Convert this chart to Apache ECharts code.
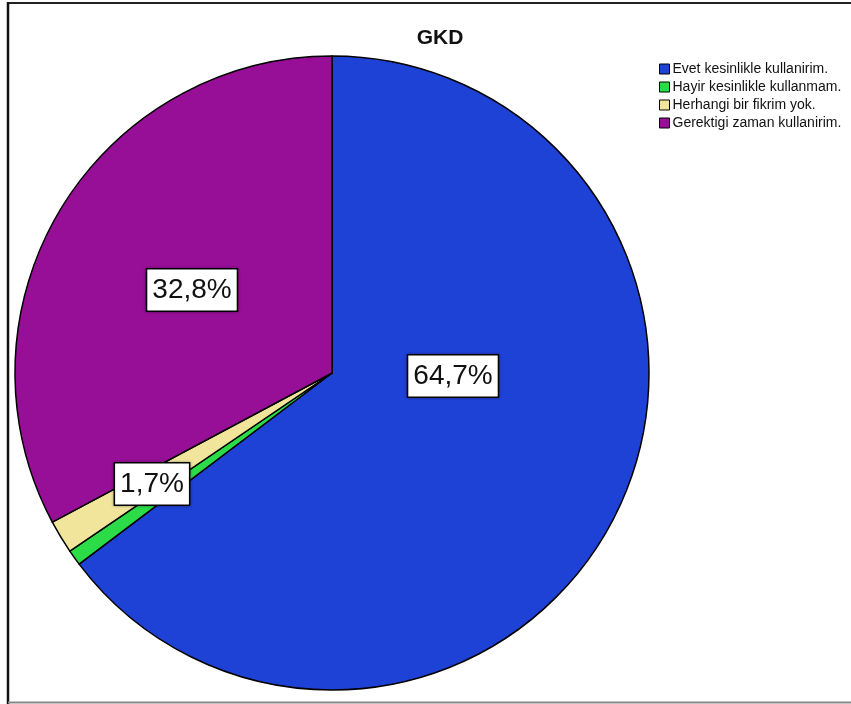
<!DOCTYPE html>
<html>
<head>
<meta charset="utf-8">
<script src="https://cdn.jsdelivr.net/npm/echarts@6/dist/echarts.min.js"></script>
<style>
html,body{margin:0;padding:0;background:#fff;}
#chart{width:851px;height:704px;}
</style>
</head>
<body>
<div id="chart"></div>
<script>
// Data
const categories = ['Evet kesinlikle kullanirim.', 'Hayir kesinlikle kullanmam.', 'Herhangi bir fikrim yok.', 'Gerektigi zaman kullanirim.'];
const values = [64.7, 0.8, 1.7, 32.8];
const labelTexts = ['64,7%', '', '1,7%', '32,8%'];
const showLabel = [true, false, true, true];

// Styling (kept separate from data)
const colors = ['#1f42d6', '#2bdc48', '#f1e59c', '#970f97'];
const CX = 332, CY = 373, R = 317;
const labelOffsets = [[121, 3], [0, 0], [-180, 111], [-140, -83]];

const chart = echarts.init(document.getElementById('chart'), null, {renderer: 'canvas'});

chart.setOption({
  animation: false,
  backgroundColor: '#ffffff',
  title: {
    text: 'GKD',
    left: 435, top: 23,
    textAlign: 'center',
    textStyle: {fontFamily: 'Liberation Sans, Arial', fontSize: 21, fontWeight: 'bold', color: '#111'}
  },
  legend: {
    orient: 'vertical',
    left: 654, top: 57,
    itemWidth: 10, itemHeight: 10, itemGap: 4,
    icon: 'rect',
    selectedMode: false,
    data: categories,
    itemStyle: {borderColor: '#000', borderWidth: 1},
    textStyle: {fontFamily: 'Liberation Sans, Arial', fontSize: 14, color: '#111', padding: [0, 0, 0, -2]}
  },
  graphic: [
    {type: 'line', shape: {x1: 8, y1: 3, x2: 851, y2: 3}, style: {stroke: '#222', lineWidth: 2}},
    {type: 'line', shape: {x1: 8, y1: 2, x2: 8, y2: 704}, style: {stroke: '#111', lineWidth: 2.5}},
    {type: 'line', shape: {x1: 8, y1: 702.5, x2: 851, y2: 702.5}, style: {stroke: '#888', lineWidth: 2}}
  ],
  series: [{
    type: 'pie',
    center: [CX, CY],
    radius: [0, R],
    startAngle: 90,
    clockwise: true,
    avoidLabelOverlap: false,
    itemStyle: {borderColor: '#000', borderWidth: 1.5},
    emphasis: {disabled: true},
    labelLine: {show: false},
    label: {
      show: true,
      position: 'inside',
      formatter: p => labelTexts[p.dataIndex],
      fontFamily: 'Liberation Sans, Arial',
      fontSize: 28,
      lineHeight: 34,
      color: '#111',
      backgroundColor: '#ffffff',
      borderColor: '#000',
      borderWidth: 1.5,
      padding: [4, 5, 3, 5],
      shadowColor: 'rgba(0,0,0,0.35)',
      shadowBlur: 3
    },
    labelLayout: function (p) {
      const o = labelOffsets[p.dataIndex];
      return {x: CX + o[0], y: CY + o[1], align: 'center', verticalAlign: 'middle'};
    },
    data: categories.map((c, i) => ({
      name: c,
      value: values[i],
      itemStyle: {color: colors[i]},
      label: {show: showLabel[i]}
    }))
  }]
});
</script>
</body>
</html>
